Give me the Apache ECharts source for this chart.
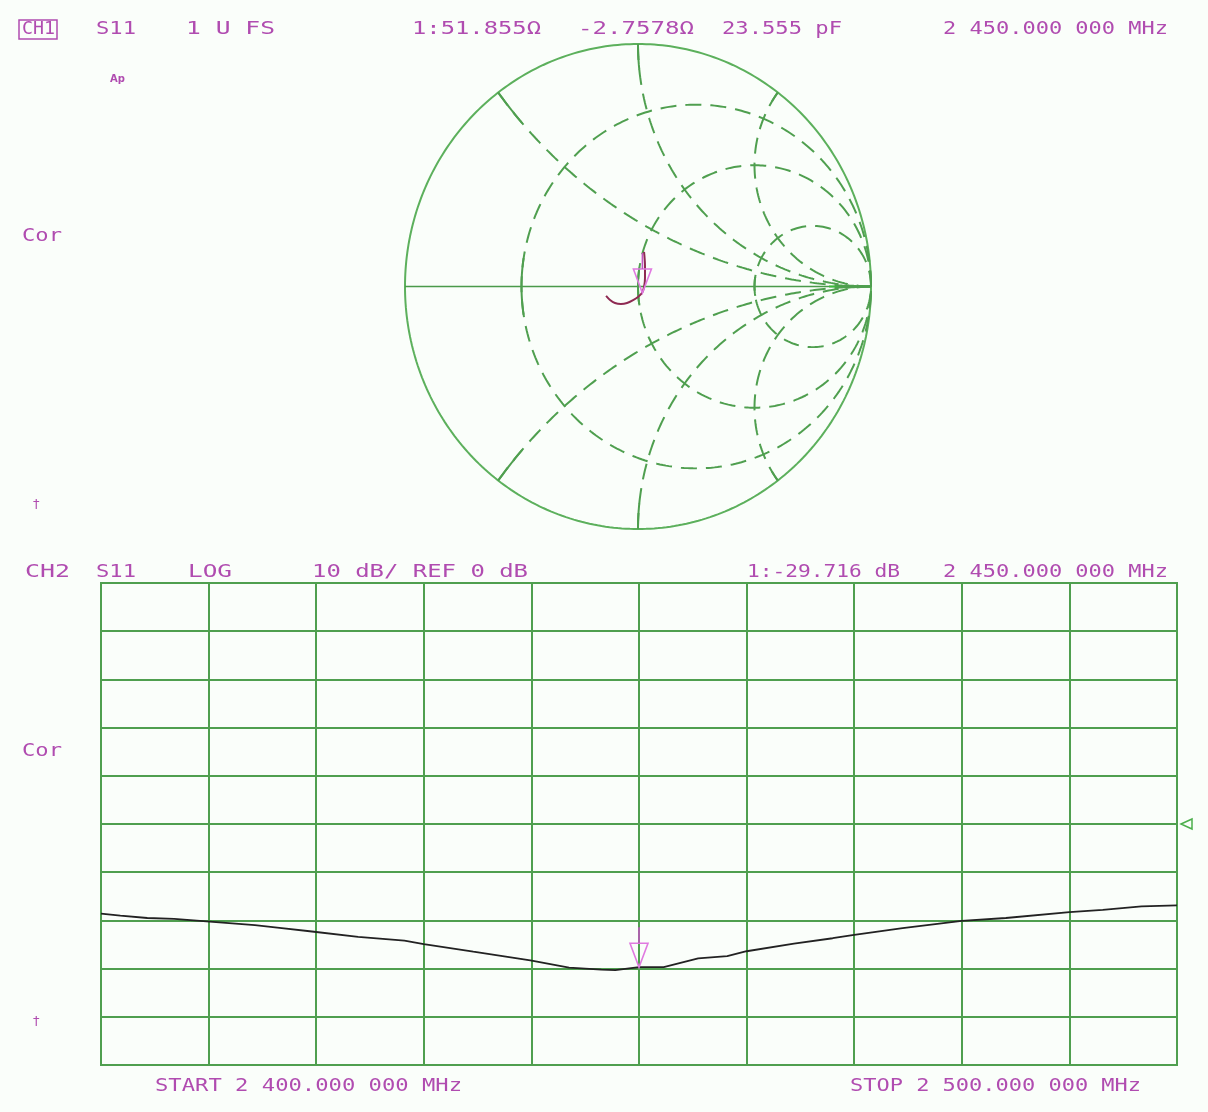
<!DOCTYPE html>
<html><head><meta charset="utf-8">
<script src="https://cdn.jsdelivr.net/npm/echarts@6/dist/echarts.min.js"></script>
<style>html,body{margin:0;padding:0;background:#fafefa}#c{width:1208px;height:1112px}</style>
</head><body><div id="c"></div><script>
// ---- data ----
const freqMHz = [2400, 2401.8, 2404.3, 2406.8, 2409.8, 2414.3, 2416.8, 2419.6, 2423.9, 2428.2, 2430, 2434.6, 2439.9, 2443.5, 2446.5, 2447.8, 2450, 2452.3, 2455.5, 2458.2, 2460, 2464.4, 2468, 2470, 2474.5, 2480, 2484.1, 2490, 2493.1, 2496.7, 2500];
const s11dB = [-18.6, -19.0, -19.5, -19.7, -20.2, -21.0, -21.6, -22.3, -23.4, -24.2, -24.9, -26.5, -28.3, -29.8, -30.2, -30.3, -29.7, -29.7, -27.9, -27.4, -26.4, -24.8, -23.7, -23.0, -21.6, -20.1, -19.5, -18.3, -17.8, -17.1, -16.9];
const smithRe = [-0.137, -0.120, -0.099, -0.073, -0.047, -0.021, 0.000, 0.017, 0.026, 0.030, 0.030, 0.026];
const smithIm = [-0.039, -0.056, -0.068, -0.072, -0.068, -0.056, -0.043, -0.027, -0.002, 0.035, 0.085, 0.143];
const markerFreq = 2450;
const markerDB = -29.716;
const markerR = 51.855, markerX = -2.7578, z0 = 50;
const rCircles = [1/3, 1, 3];
const xArcs = [0.5, 1, 2];
const refDB = 0;
const dbMin = -50, dbMax = 50, dbStep = 10;
const fStart = 2400, fStop = 2500, fStep = 10;

// ---- helpers ----
function gam(r, x){ const den=(r+1)*(r+1)+x*x; return [((r-1)*(r+1)+x*x)/den, 2*x/den]; }
const GREEN='#5cb05c', DGREEN='#4f9f4f', TXT='#b04cb0', PINK='#e07ae0';
const series = [];
function addLine(pts, color, width, type, z){
  series.push({type:'line', xAxisIndex:1, yAxisIndex:1, data:pts, showSymbol:false, silent:true, animation:false,
    lineStyle:{color:color, width:width, type:type||'solid'}, z:z||2});
}
// outer circle
const outer=[]; for(let i=0;i<=360;i++){const a=i*Math.PI/180; outer.push([Math.cos(a),Math.sin(a)]);}
addLine(outer, GREEN, 2);
addLine([[-1,0],[1,0]], '#4a9a4a', 1.5);
// r circles
rCircles.forEach(r=>{
  const c=r/(r+1), rad=1/(r+1), pts=[], solid=[];
  for(let i=0;i<=360;i++){const a=i*Math.PI/180; pts.push([c+rad*Math.cos(a), rad*Math.sin(a)]);}
  for(let i=-9;i<=9;i++){const a=Math.PI+i*Math.PI/180; solid.push([c+rad*Math.cos(a), rad*Math.sin(a)]);}
  addLine(pts, DGREEN, 2, [16,9]);
  addLine(solid, DGREEN, 2);
});
addLine([[0.82,0],[1,0]], '#3cbc3c', 2);
// x arcs
xArcs.forEach(x0=>{[x0,-x0].forEach(x=>{
  const pts=[], solid=[];
  for(let i=0;i<=400;i++){const s=i/400*0.998; const r=s/(1-s); pts.push(gam(r,x));}
  for(let i=0;i<=20;i++){const s=i/20*0.1; const r=s/(1-s); solid.push(gam(r,x));}
  pts.push([1,0]);
  addLine(pts, DGREEN, 2, [16,9]);
  addLine(solid, DGREEN, 2);
});});
// smith trace
series.push({type:'line', xAxisIndex:1, yAxisIndex:1, data:smithRe.map((v,i)=>[v,smithIm[i]]), showSymbol:false, smooth:0.3,
  lineStyle:{color:'#8e2a52', width:2}, z:5, animation:false});
// log mag trace
series.push({type:'line', xAxisIndex:0, yAxisIndex:0, data:freqMHz.map((f,i)=>[f,s11dB[i]]), showSymbol:false,
  lineStyle:{color:'#222', width:1.8}, z:5, animation:false});

const axLine={show:true, lineStyle:{color:DGREEN, width:2}};
const option={
  backgroundColor:'#fafefa', animation:false,
  grid:[{left:101, top:583, width:1076, height:482, show:true, borderColor:DGREEN, borderWidth:2, backgroundColor:'transparent'},
        {left:405, top:44, width:466, height:485, show:false}],
  xAxis:[{gridIndex:0, type:'value', min:fStart, max:fStop, interval:fStep, axisLabel:{show:false}, axisTick:{show:false}, axisLine:axLine, splitLine:{show:true, lineStyle:{color:DGREEN, width:2}}},
         {gridIndex:1, type:'value', min:-1, max:1, show:false}],
  yAxis:[{gridIndex:0, type:'value', min:dbMin, max:dbMax, interval:dbStep, axisLabel:{show:false}, axisTick:{show:false}, axisLine:axLine, splitLine:{show:true, lineStyle:{color:DGREEN, width:2}}},
         {gridIndex:1, type:'value', min:-1, max:1, show:false}],
  series:series
};
const chart=echarts.init(document.getElementById('c'),null,{renderer:'canvas'});
chart.setOption(option);

// ---- texts & markers ----
const FS=17;
const labels=[
  {t:'CH1',x:22,x1:55,y:30},{t:'S11',x:96,x1:136,y:30},{t:'1 U FS',x:186,x1:275,y:30},
  {t:'1:51.855Ω',x:412,x1:541,y:30},{t:'-2.7578Ω',x:578,x1:694,y:30},{t:'23.555 pF',x:722,x1:842,y:30},
  {t:'2 450.000 000 MHz',x:943,x1:1168,y:30},
  {t:'Cor',x:22,x1:62,y:237},
  {t:'CH2',x:25,x1:70,y:573},{t:'S11',x:96,x1:136,y:573},{t:'LOG',x:188,x1:232,y:573},
  {t:'10 dB/ REF 0 dB',x:312,x1:528,y:573},{t:'1:-29.716 dB',x:747,x1:900,y:573},
  {t:'2 450.000 000 MHz',x:943,x1:1168,y:573},
  {t:'Cor',x:22,x1:62,y:752},
  {t:'START 2 400.000 000 MHz',x:155,x1:462,y:1087},{t:'STOP 2 500.000 000 MHz',x:850,x1:1141,y:1087}
];
const g=[];
labels.forEach(l=>{
  g.push({type:'text', x:l.x, y:l.y, scaleX:(l.x1-l.x)/(l.t.length*0.602*FS), silent:true, z:10,
    style:{text:l.t, fill:TXT, font:FS+'px "DejaVu Sans Mono"', verticalAlign:'middle', textVerticalAlign:'middle'}});
});
g.push({type:'text', x:110, y:79, silent:true, style:{text:'Ap', fill:TXT, font:'bold 10px "DejaVu Sans"', verticalAlign:'middle', textVerticalAlign:'middle'}});
g.push({type:'text', x:33, y:505, silent:true, style:{text:'†', fill:TXT, font:'13px "DejaVu Sans"', verticalAlign:'middle', textVerticalAlign:'middle'}});
g.push({type:'text', x:33, y:1022, silent:true, style:{text:'†', fill:TXT, font:'13px "DejaVu Sans"', verticalAlign:'middle', textVerticalAlign:'middle'}});
g.push({type:'rect', shape:{x:19, y:20, width:38, height:19}, silent:true, style:{fill:'none', stroke:TXT, lineWidth:1.5}});

function markerGlyph(p){
  g.push({type:'polygon', shape:{points:[[p[0]-9,p[1]-24],[p[0]+9,p[1]-24],[p[0],p[1]]]}, silent:true, z:20, style:{fill:'none', stroke:PINK, lineWidth:1.6}});
  g.push({type:'line', shape:{x1:p[0], y1:p[1]-40, x2:p[0], y2:p[1]-24}, silent:true, z:20, style:{stroke:'#c056c0', lineWidth:1.6}});
}
markerGlyph(chart.convertToPixel({gridIndex:0},[markerFreq, markerDB]));
// smith marker from impedance
const zr=markerR/z0, zx=markerX/z0, gm=gam(zr,zx);
markerGlyph(chart.convertToPixel({gridIndex:1},gm));
// reference position triangle
const rp=chart.convertToPixel({gridIndex:0},[fStop, refDB]);
g.push({type:'polygon', shape:{points:[[rp[0]+4,rp[1]],[rp[0]+15,rp[1]-5],[rp[0]+15,rp[1]+5]]}, silent:true, style:{fill:'none', stroke:'#4caf4c', lineWidth:1.5}});
chart.setOption({graphic:g});
</script></body></html>
